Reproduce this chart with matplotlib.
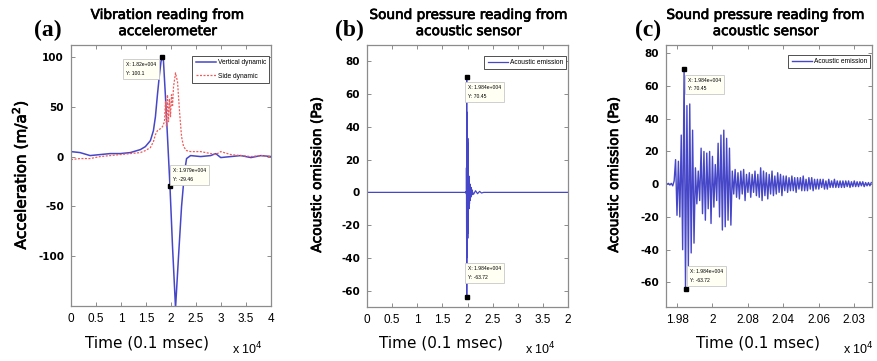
import numpy as np
import matplotlib
matplotlib.use("Agg")
import matplotlib.pyplot as plt
import matplotlib.patheffects as pe

# ---------------- data ----------------
# panel (a): accelerometer (time in samples of 0.1 msec)
vert_t = [0, 1809, 3819, 5829, 7839, 9849, 11859, 13869, 14874, 15879, 16482,
          16884, 17286, 17688, 17990, 18200, 18492, 18894, 19296, 19790, 20302,
          20905, 21507, 22111, 22714, 23116, 23920, 25930, 27940, 28945, 29950,
          31960, 33970, 35980, 37990, 40000]
vert_v = [5, 4, 1, 2, 3, 3, 4, 7, 10, 16, 26,
          40, 62, 82, 95, 100.1, 96, 60, 20, -29.46, -90,
          -152, -100, -50, -15, -2, 1, 0, 1, 3, -1,
          0, 1, -1, 1, 0]
side_t = [0, 1809, 3819, 5829, 7839, 9849, 11859, 13869, 14874, 15879, 16482,
          16884, 17286, 17889, 18291, 18693, 18894, 19095, 19296, 19497, 19698,
          19899, 20101, 20302, 20503, 20905, 21307, 21709, 22111, 22513, 23116,
          23920, 25930, 27940, 28945, 29950, 31960, 33970, 35980, 37990, 40000]
side_v = [-3, -2, -2, 0, 1, 2, 3, 4, 6, 9, 15,
          22, 26, 28, 30, 35, 55, 30, 62, 35, 58,
          40, 62, 50, 70, 84, 75, 45, 20, 10, 6,
          5, 5, 3, 2, 5, 2, 1, 0, 1, 0]

# panels (b)/(c): acoustic emission, extremes sampled every 8 samples from 19744
ae_start = 19744
ae_step = 8
ae_v = [0, 0.5, -0.5, 0.5, -1, 2, 15, -19, 14, -20, 30, -40, 70.45, -63.72,
        48, -50, 49, -42, 33, -36, 10, -12, 8, -10, 22, -18, 20, -22, 19, -15,
        20, -24, 17, -14, 12, -10, 25, -20, 30, -28, 33, -26, 28, -22, 22, -25,
        8, -6, 9, -8, 7, -9, 8, -6, 9, -10, 6, -5, 7, -8, 6, -5, 8, -7, 6, -8,
        10, -10, 8, -7, 7, -9, 6, -6, 8, -7, 5, -6, 7, -5, 6, -7, 5, -4, 5, -5,
        4, -4, 5, -4, 4, -5, 4, -3, 4, -4, 5, -4, 3, -4, 4, -3, 4, -4, 3, -3,
        3, -3, 3, -2, 3, -3, 2, -3, 3, -2, 2, -2, 3, -2, 2, -2, 2, -2, 2, -2,
        2, -1.5, 2, -2, 1.5, -1.5, 2, -1.5, 1.5, -1.5, 1.5, -1, 1.5, -1.5, 1,
        -1, 1, -1, 1]
# quiet tail after the burst (visible only in the full-record panel b)
tail_t = [21200, 21600, 22000, 22400, 22800, 23200, 40000]
tail_v = [-1.2, 1.0, -0.8, 0.6, -0.4, 0, 0]
full_start = 0

# data tips
tip_a = [(18200, 100.1, "X: 1.82e+004\nY: 100.1"), (19790, -29.46, "X: 1.979e+004\nY: -29.46")]
tip_ae = [(19840, 70.45, "X: 1.984e+004\nY: 70.45"), (19848, -63.72, "X: 1.984e+004\nY: -63.72")]

# tick labels
a_xticks = [0, 5000, 10000, 15000, 20000, 25000, 30000, 35000, 40000]
a_xlabels = ["0", "0.5", "1", "1.5", "2", "2.5", "3", "3.5", "4"]
b_xlabels = ["0", "0.5", "1", "1.5", "2", "2.5", "3", "3.5", "2"]
a_yticks = [100, 50, 0, -50, -100]
b_yticks = [80, 60, 40, 20, 0, -20, -40, -60]
c_xticks = [19800, 20000, 20200, 20400, 20600, 20800]
c_xlabels = ["1.98", "2", "2.08", "2.04", "2.06", "2.03"]

# ---------------- figure ----------------
W, H = 877, 361
fig = plt.figure(figsize=(W / 100, H / 100), dpi=100)

def rect(l, r, t, b):
    return [l / W, 1 - b / H, (r - l) / W, (b - t) / H]

axA = fig.add_axes(rect(71, 271, 45, 306))
axB = fig.add_axes(rect(367, 568, 45, 307))
axC = fig.add_axes(rect(666, 872, 45, 307))

blue = "#4646c8"
red = "#f05a5a"
gray = "#8c8c8c"
thick = [pe.withStroke(linewidth=0.5, foreground="black")]

def style(ax):
    for s in ax.spines.values():
        s.set_color(gray)
        s.set_linewidth(0.9)
    ax.tick_params(direction="in", length=3, width=0.7, color=gray,
                   top=True, right=True, pad=5)
    for lab in ax.get_xticklabels():
        lab.set_fontfamily("Liberation Sans")
        lab.set_fontsize(8.5)
    for lab in ax.get_yticklabels():
        lab.set_fontfamily("DejaVu Sans")
        lab.set_fontweight("bold")
        lab.set_fontsize(7.5)

def tips(ax, tl, offs):
    for (x, y, s), (dx, dy, va) in zip(tl, offs):
        ax.plot([x], [y], marker="s", color="black", ms=3.2, zorder=5, clip_on=False)
        ax.annotate(s, (x, y), xytext=(dx, dy), textcoords="offset points",
                    ha="left", va=va, fontsize=3.6, family="Liberation Sans",
                    linespacing=1.9,
                    bbox=dict(boxstyle="square,pad=0.6", fc="#fffff4", ec="#c8c8c8", lw=0.6),
                    zorder=6)

def legend(ax, top_px):
    h = ax.get_position().height * H
    leg = ax.legend(loc="upper right", bbox_to_anchor=(1.0, 1 - top_px / h),
                    handlelength=3.0, handletextpad=0.3, labelspacing=1.0,
                    borderpad=0.5, fancybox=False, edgecolor="#333333", framealpha=1,
                    borderaxespad=0.25, prop={"family": "Liberation Sans", "size": 4.8})
    leg.get_frame().set_linewidth(0.6)

# panel (a)
axA.plot(vert_t, vert_v, color=blue, lw=1.1, label="Vertical dynamic")
axA.plot(side_t, side_v, color=red, lw=0.9, ls=(0, (1.6, 1.2)), label="Side dynamic")
axA.set_xlim(0, 40000)
axA.set_ylim(-150, 112)
axA.set_xticks(a_xticks, a_xlabels)
axA.set_yticks(a_yticks, [str(v) for v in a_yticks])
style(axA)
legend(axA, 9)
tips(axA, tip_a, [(-26, -4, "top"), (2, 3, "bottom")])

# acoustic data arrays
ae_t = ae_start + ae_step * np.arange(len(ae_v))
b_t = np.concatenate([[full_start, ae_start - ae_step], ae_t, tail_t])
b_v = np.concatenate([[0, 0], ae_v, tail_v])

axB.plot(b_t, b_v, color=blue, lw=0.9, label="Acoustic emission")
axB.set_xlim(0, 40000)
axB.set_ylim(-70, 90)
axB.set_xticks(a_xticks, b_xlabels)
axB.set_yticks(b_yticks, [str(v) for v in b_yticks])
style(axB)
legend(axB, 9)
tips(axB, tip_ae, [(1, -6, "top"), (1, 12, "bottom")])

axC.plot(ae_t, ae_v, color=blue, lw=1.0, label="Acoustic emission")
axC.set_xlim(19738, 20900)
axC.set_ylim(-75, 85)
axC.set_xticks(c_xticks, c_xlabels)
axC.set_yticks(b_yticks, [str(v) for v in b_yticks])
style(axC)
legend(axC, 8)
tips(axC, tip_ae, [(3, -6.5, "top"), (3, 4, "bottom")])

# texts
def ft(x, y, s, **kw):
    fig.text(x / W, 1 - y / H, s, **kw)

title_kw = dict(ha="center", va="center", fontsize=9.8, family="DejaVu Sans",
                linespacing=1.2, path_effects=thick)
ft(168, 23, "Vibration reading from\naccelerometer", **title_kw)
ft(469, 23, "Sound pressure reading from\nacoustic sensor", **title_kw)
ft(766, 23, "Sound pressure reading from\nacoustic sensor", **title_kw)

pl_kw = dict(ha="center", va="center", fontsize=17, family="Liberation Serif", weight="bold")
ft(48, 30, "(a)", **pl_kw)
ft(349, 30, "(b)", **pl_kw)
ft(648, 30, "(c)", **pl_kw)

ft(20, 175, "Acceleration (m/a$^2$)", ha="center", va="center", rotation=90,
   fontsize=11, family="DejaVu Sans", path_effects=thick)
ft(317, 175, "Acoustic omission (Pa)", ha="center", va="center", rotation=90,
   fontsize=10, family="DejaVu Sans", path_effects=thick)
ft(614, 175, "Acoustic omission (Pa)", ha="center", va="center", rotation=90,
   fontsize=10, family="DejaVu Sans", path_effects=thick)

xl_kw = dict(ha="center", va="center", fontsize=11, family="DejaVu Sans")
ft(147, 343, "Time (0.1 msec)", **xl_kw)
ft(441, 343, "Time (0.1 msec)", **xl_kw)
ft(758, 343, "Time (0.1 msec)", **xl_kw)

ex_kw = dict(ha="left", va="baseline", fontsize=9, family="Liberation Sans")
ft(232, 354, "x 10$^{4}$", **ex_kw)
ft(525, 354, "x 10$^{4}$", **ex_kw)
ft(843, 354, "x 10$^{4}$", **ex_kw)

fig.savefig("out.png", dpi=100)
